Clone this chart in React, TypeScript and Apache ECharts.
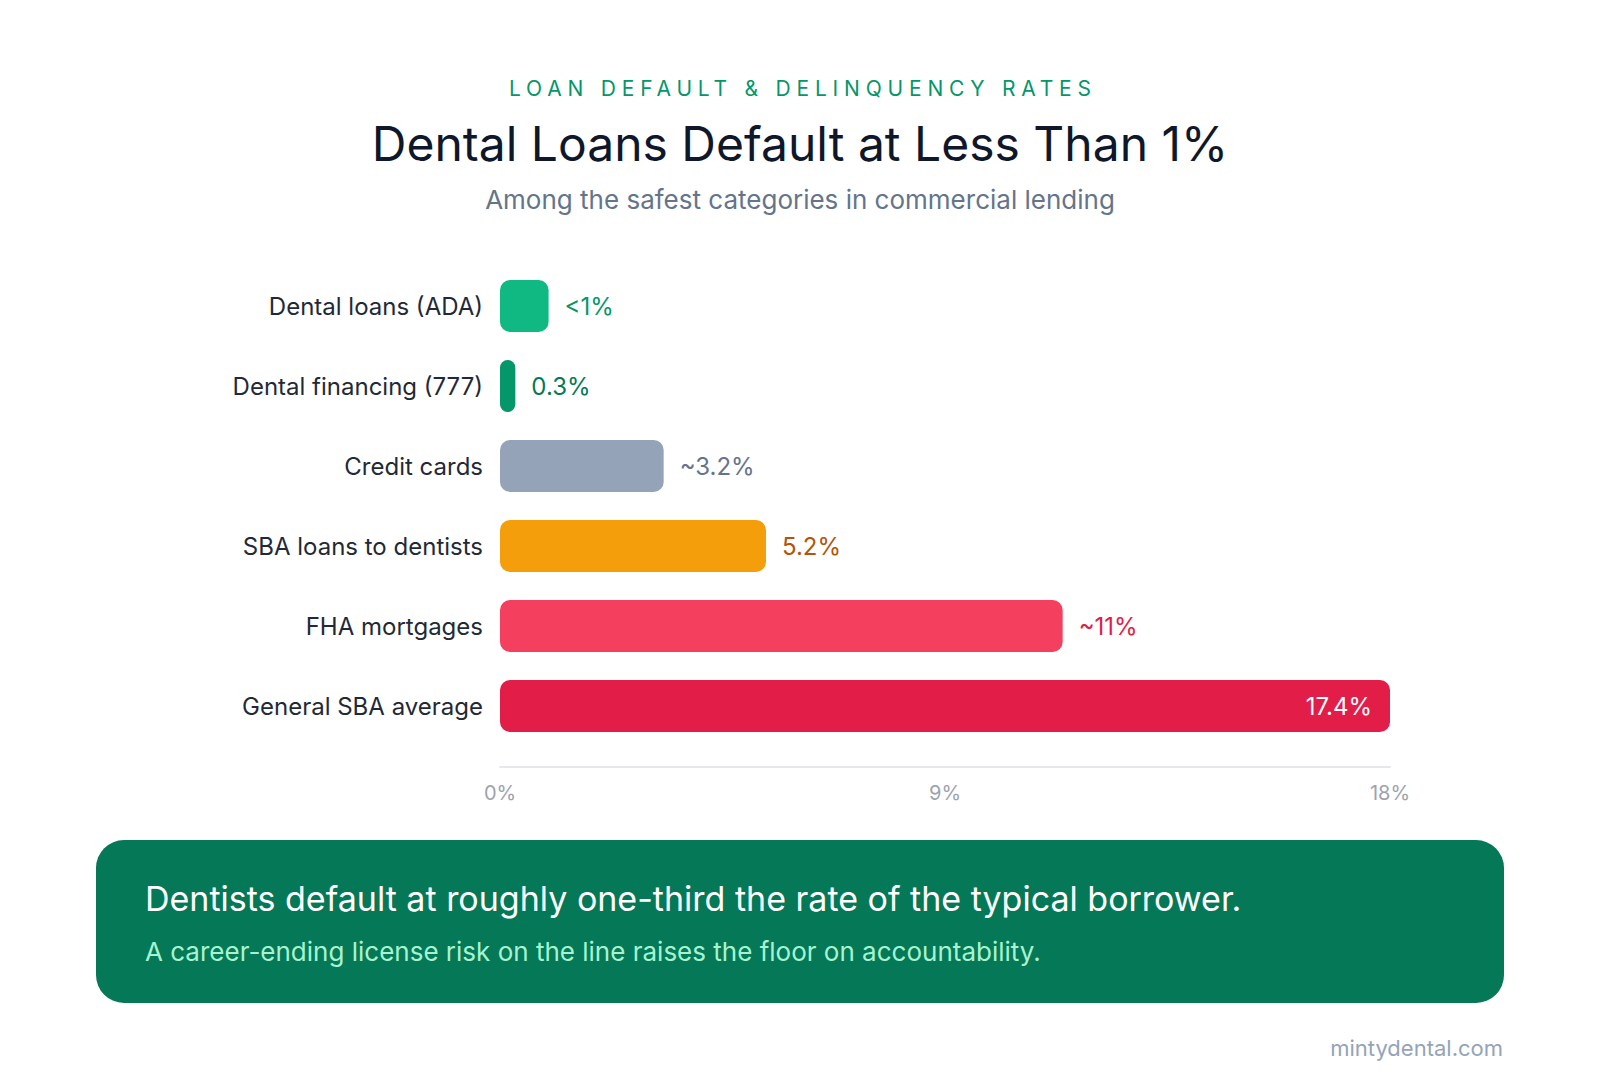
import React, { useEffect, useRef } from "react";
import * as echarts from "echarts";

const categories = [
  "Dental loans (ADA)",
  "Dental financing (777)",
  "Credit cards",
  "SBA loans to dentists",
  "FHA mortgages",
  "General SBA average",
];
const values = [0.95, 0.3, 3.2, 5.2, 11, 17.4];
const valueLabels = ["<1%", "0.3%", "~3.2%", "5.2%", "~11%", "17.4%"];
const barColors = ["#10b981", "#059669", "#94a3b8", "#f59e0b", "#f43f5e", "#e11d48"];
const labelColors = ["#059669", "#047857", "#64748b", "#b45309", "#e11d48", "#ffffff"];
const tickLabels = ["0%", "9%", "18%"];

const kicker = "LOAN DEFAULT & DELINQUENCY RATES";
const titleText = "Dental Loans Default at Less Than 1%";
const subtitleText = "Among the safest categories in commercial lending";
const calloutMain = "Dentists default at roughly one-third the rate of the typical borrower.";
const calloutSub = "A career-ending license risk on the line raises the floor on accountability.";
const sourceText = "mintydental.com";

const FONT = "Inter, 'Noto Sans', sans-serif";

export default function App() {
  const ref = useRef<HTMLDivElement>(null);

  useEffect(() => {
    document.body.style.margin = "0";
    const el = ref.current!;
    const chart = echarts.init(el, null, { renderer: "svg" });
    const axisMax = values[values.length - 1];

    chart.setOption({
      animation: false,
      backgroundColor: "#ffffff",
      textStyle: { fontFamily: FONT },
      grid: { left: 500, right: 210, top: 266, height: 480, containLabel: false },
      xAxis: {
        type: "value",
        min: 0,
        max: axisMax,
        interval: axisMax / 2,
        offset: 21,
        splitLine: { show: false },
        axisTick: { show: false },
        axisLine: { show: true, lineStyle: { color: "#e5e7eb", width: 2 } },
        axisLabel: {
          showMinLabel: true,
          showMaxLabel: true,
          margin: 16,
          fontSize: 20,
          color: "#9ca3af",
          fontFamily: FONT,
          formatter: (v: number) => tickLabels[Math.round(v / (axisMax / 2))] ?? "",
        },
      },
      yAxis: {
        type: "category",
        inverse: true,
        data: categories,
        axisLine: { show: false },
        axisTick: { show: false },
        axisLabel: {
          fontSize: 24,
          color: "#1f2937",
          margin: 17,
          fontFamily: FONT,
          padding: [3, 0, 0, 0],
        },
      },
      series: [
        {
          type: "bar",
          barWidth: 52,
          data: values.map((v, i) => ({
            value: v,
            itemStyle: { color: barColors[i], borderRadius: 10 },
            label: {
              show: true,
              position: i === values.length - 1 ? "insideRight" : "right",
              distance: i === values.length - 1 ? 18 : 16,
              formatter: valueLabels[i],
              color: labelColors[i],
              fontSize: 24,
              fontFamily: FONT,
              padding: [2, 0, 0, 0],
            },
          })),
        },
      ],
      graphic: [
        {
          type: "text",
          x: 800,
          y: 88,
          silent: true,
          style: {
            text: kicker,
            fill: "#059669",
            font: `400 21px ${FONT}`,
            textAlign: "center",
            textVerticalAlign: "middle",
          },
        },
        {
          type: "text",
          x: 800,
          y: 143,
          silent: true,
          style: {
            text: titleText,
            fill: "#0f172a",
            font: `400 48px ${FONT}`,
            textAlign: "center",
            textVerticalAlign: "middle",
          },
        },
        {
          type: "text",
          x: 800,
          y: 199,
          silent: true,
          style: {
            text: subtitleText,
            fill: "#64748b",
            font: `400 26px ${FONT}`,
            textAlign: "center",
            textVerticalAlign: "middle",
          },
        },
        {
          type: "rect",
          silent: true,
          shape: { x: 96, y: 840, width: 1408, height: 163, r: 28 },
          style: { fill: "#047857" },
        },
        {
          type: "text",
          x: 145,
          y: 898,
          silent: true,
          style: {
            text: calloutMain,
            fill: "#ffffff",
            font: `400 34px ${FONT}`,
            textAlign: "left",
            textVerticalAlign: "middle",
          },
        },
        {
          type: "text",
          x: 145,
          y: 951,
          silent: true,
          style: {
            text: calloutSub,
            fill: "#a7f3d0",
            font: `400 26px ${FONT}`,
            textAlign: "left",
            textVerticalAlign: "middle",
          },
        },
        {
          type: "text",
          x: 1503,
          y: 1048,
          silent: true,
          style: {
            text: sourceText,
            fill: "#94a3b8",
            font: `400 22px ${FONT}`,
            textAlign: "right",
            textVerticalAlign: "middle",
          },
        },
      ],
    });

    const spaceKicker = () => {
      el.querySelectorAll("text").forEach((t) => {
        if (t.textContent === kicker && !t.getAttribute("letter-spacing")) {
          t.setAttribute("letter-spacing", "5.8");
          t.setAttribute("transform", (t.getAttribute("transform") || "") + " translate(2.9 0)");
        }
      });
    };
    spaceKicker();
    chart.on("finished", spaceKicker);

    return () => {
      chart.dispose();
    };
  }, []);

  return <div ref={ref} style={{ width: 1600, height: 1080 }} />;
}
